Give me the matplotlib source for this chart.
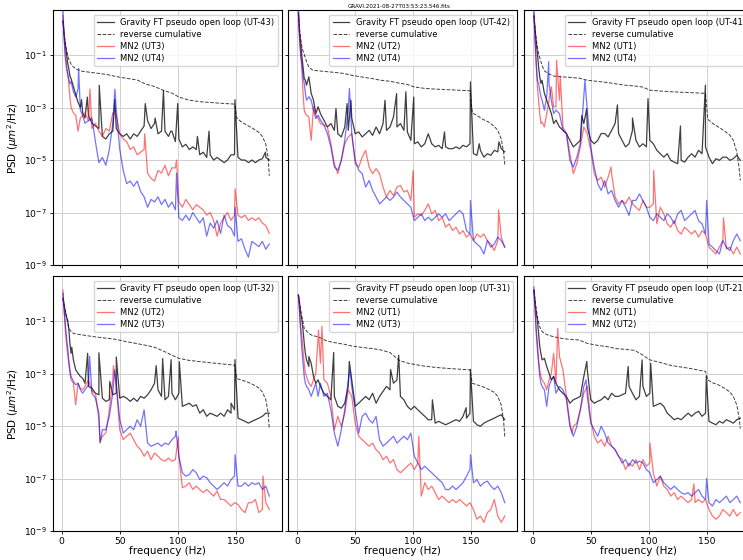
import numpy as np
import matplotlib

matplotlib.use("Agg")
import matplotlib.pyplot as plt
from matplotlib.ticker import NullLocator

FREQ = [1, 2, 3, 4, 5, 6, 7, 8, 10, 12,
        14, 16, 18, 20, 23, 26, 29, 32, 35, 38,
        41, 44, 47, 50, 53, 56, 59, 62, 65, 68,
        71, 74, 77, 80, 83, 86, 89, 92, 95, 98,
        101, 104, 107, 110, 113, 116, 119, 122, 125, 128,
        131, 134, 137, 140, 143, 146, 149, 152, 155, 158,
        161, 164, 167, 170, 173, 176, 179]

# reverse cumulative is smooth, read on a coarser grid
CUM_FREQ = [1, 2, 3, 4, 5, 6, 8, 10, 13, 18, 25, 32, 40, 47, 55, 65, 72,
            80, 88, 95, 101, 110, 120, 135, 149, 151, 155, 160, 165, 170,
            173, 176, 178, 179]

# all PSD values below are log10(um^2/Hz)

# --- UT-43 ---
ut43_ft = [0.3, -0.2, -0.6, -0.9, -1.3, -1.5, -1.8, -1.9, -2.2, -2.5,
           -2.8, -3.0, -3.2, -3.4, -3.3, -3.6, -3.7, -3.8, -4.1, -4.2,
           -4.0, -3.9, -3.8, -4.0, -4.1, -4.0, -4.2, -4.0, -4.1, -3.9,
           -3.7, -3.5, -3.8, -3.6, -4.0, -3.9, -3.9, -4.1, -3.9, -4.3,
           -4.2, -4.5, -4.4, -4.6, -4.5, -4.6, -4.8, -4.7, -4.9, -4.8,
           -5.0, -4.9, -5.0, -5.1, -5.0, -4.8, -4.8, -4.9, -5.0, -5.0,
           -5.1, -5.0, -5.1, -5.0, -4.95, -4.9, -5.0]
ut43_ft_peaks = [(17, -2.7), (22, -2.6), (32.3, -2.15), (45.7, -2.7),
                 (72, -2.85), (80.5, -3.4), (87.7, -2.35), (94, -3.9),
                 (100, -2.85), (117, -4.1), (127, -3.9), (149.4, -2.7),
                 (175.7, -4.7)]
ut43_cum = [0.3, -0.2, -0.55, -0.8, -1.0, -1.15, -1.35, -1.45, -1.55, -1.62,
            -1.66, -1.7, -1.75, -1.82, -1.88, -1.95, -2.1, -2.2, -2.35, -2.45,
            -2.6, -2.72, -2.78, -2.83, -2.87, -3.4, -3.55, -3.68, -3.8, -3.95,
            -4.1, -4.4, -4.9, -5.6]
ut43_ut3 = [0.5, -0.3, -0.9, -1.3, -1.7, -2.1, -2.6, -3.0, -3.2, -3.3,
            -3.9, -3.4, -3.3, -3.2, -3.5, -3.8, -3.6, -3.9, -4.1, -3.8,
            -3.9, -3.2, -3.3, -4.0, -4.2, -4.3, -4.6, -4.5, -4.8, -4.7,
            -4.6, -5.5, -5.7, -5.8, -5.4, -5.5, -5.2, -5.6, -5.3, -5.3,
            -6.6, -6.8, -6.5, -6.7, -6.9, -6.7, -6.8, -6.9, -7.1, -7.0,
            -7.3, -7.9, -7.4, -7.2, -7.0, -7.3, -7.1, -7.1, -7.2, -7.1,
            -7.3, -7.2, -7.3, -7.2, -7.4, -7.5, -7.8]
ut43_ut3_peaks = [(24.3, -2.3), (71.5, -4.0), (99, -5.0), (149.5, -6.1)]
ut43_ut4 = [0.7, -0.4, -1.1, -1.5, -1.7, -1.9, -2.1, -2.0, -2.4, -2.6,
            -2.3, -3.1, -3.3, -3.6, -3.5, -3.4, -4.3, -5.1, -4.9, -5.2,
            -4.6, -3.6, -3.1, -4.6, -5.4, -5.9, -5.8, -6.0, -5.8, -6.2,
            -6.4, -6.8, -6.5, -6.6, -6.4, -6.7, -6.5, -6.8, -6.6, -6.9,
            -7.2, -7.3, -7.1, -7.3, -7.0, -7.2, -7.4, -7.2, -7.9, -7.4,
            -7.6, -7.3, -7.8, -7.1, -7.5, -7.6, -7.9, -8.1, -8.0, -8.4,
            -8.7, -8.1, -8.2, -8.3, -8.1, -8.4, -8.2]
ut43_ut4_peaks = [(14.5, -1.5), (45.8, -2.3), (99, -5.5), (149.5, -6.8)]

# --- UT-42 ---
ut42_ft = [0.59, -0.17, -0.55, -1.06, -1.45, -1.89, -1.96, -2.15, -1.83, -2.46,
           -2.72, -3.23, -2.97, -3.23, -3.48, -3.74, -3.61, -3.87, -4.0, -4.12,
           -3.74, -3.87, -3.4, -4.0, -3.93, -4.12, -4.0, -3.87, -4.06, -3.74,
           -4.0, -3.61, -3.87, -3.74, -3.36, -3.74, -3.61, -3.87, -3.93, -4.25,
           -4.38, -4.31, -4.5, -4.38, -4.0, -4.38, -4.5, -4.44, -4.57, -4.5,
           -4.57, -4.57, -4.5, -4.57, -4.44, -4.5, -4.38, -4.76, -4.82, -4.63,
           -4.89, -4.76, -4.82, -4.63, -4.69, -4.57, -4.69]
ut42_ft_peaks = [(33.4, -3.04), (43, -2.85), (46.3, -2.72), (75.7, -2.72),
                 (85.7, -2.47), (93.7, -2.4), (100.5, -2.6), (127, -3.93),
                 (149.4, -2.02), (157, -4.38), (174, -4.31)]
ut42_cum = [0.59, 0.0, -0.4, -0.7, -0.85, -0.97, -1.25, -1.45, -1.57, -1.6,
            -1.63, -1.66, -1.7, -1.77, -1.83, -1.9, -1.96, -2.0, -2.07, -2.12,
            -2.22, -2.27, -2.3, -2.33, -2.36, -3.2, -3.3, -3.45, -3.55, -3.72,
            -3.87, -4.2, -4.7, -5.2]
ut42_ut2 = [0.72, -0.3, -0.94, -1.57, -2.46, -3.1, -3.23, -3.29, -3.36, -4.25,
            -2.97, -3.29, -3.42, -3.61, -3.67, -3.74, -4.38, -5.14, -5.52, -5.01,
            -4.38, -4.12, -3.99, -5.14, -5.27, -4.89, -4.63, -5.27, -5.52, -5.33,
            -5.52, -6.03, -6.41, -6.16, -6.35, -6.03, -5.97, -6.22, -6.16, -6.54,
            -7.18, -7.05, -7.11, -6.92, -6.67, -7.05, -6.92, -7.31, -7.18, -7.56,
            -7.43, -7.69, -7.56, -7.82, -7.69, -7.94, -7.82, -8.07, -7.82, -7.94,
            -7.82, -8.07, -8.2, -8.45, -8.07, -7.94, -8.32]
ut42_ut2_peaks = [(100, -5.4), (173.7, -6.9)]
ut42_ut4 = [0.78, -0.43, -1.06, -1.32, -1.83, -2.08, -2.46, -2.72, -2.59, -2.72,
            -3.1, -3.42, -3.29, -3.48, -3.67, -3.99, -4.5, -5.27, -5.39, -5.01,
            -4.25, -3.1, -3.99, -5.01, -5.39, -5.52, -6.03, -5.78, -6.16, -6.41,
            -6.67, -6.54, -6.41, -6.54, -6.41, -6.22, -6.41, -6.54, -6.67, -6.8,
            -7.31, -7.18, -7.05, -7.31, -7.18, -7.31, -7.18, -7.05, -7.18, -7.05,
            -7.31, -7.18, -7.05, -6.92, -7.05, -7.69, -7.82, -8.07, -8.2, -8.32,
            -8.58, -8.07, -8.32, -8.2, -7.94, -8.07, -8.32]
ut42_ut4_peaks = [(45, -2.27), (149.4, -6.54)]

# --- UT-41 ---
ut41_ft = [0.46, -0.04, -0.55, -0.94, -1.45, -1.83, -2.08, -1.96, -2.46, -2.72,
           -2.97, -3.23, -3.61, -3.48, -3.74, -3.87, -3.99, -4.25, -4.5, -4.38,
           -4.25, -3.61, -3.74, -4.25, -4.38, -4.25, -3.99, -3.99, -4.12, -3.87,
           -3.61, -3.99, -4.25, -4.5, -4.38, -3.87, -4.25, -4.5, -4.38, -4.5,
           -4.25, -4.38, -4.63, -4.76, -4.89, -4.76, -5.01, -5.08, -5.14, -5.01,
           -5.08, -4.89, -4.76, -4.89, -4.63, -4.76, -4.5, -4.89, -5.14, -4.95,
           -5.01, -4.89, -4.89, -5.01, -4.95, -4.82, -5.01]
ut41_ft_peaks = [(42.3, -3.3), (46.5, -3.05), (73, -2.9), (86, -3.4),
                 (99.4, -2.66), (127.4, -3.7), (148.9, -2.15)]
ut41_cum = [0.53, 0.0, -0.4, -0.7, -0.94, -1.1, -1.4, -1.6, -1.7, -1.8,
            -1.83, -1.85, -1.88, -1.96, -2.0, -2.05, -2.1, -2.15, -2.18, -2.22,
            -2.34, -2.37, -2.4, -2.43, -2.46, -3.45, -3.6, -3.74, -3.88, -4.05,
            -4.25, -4.7, -5.3, -5.78]
ut41_ut1 = [0.59, -0.55, -1.45, -2.21, -2.72, -3.23, -3.61, -3.55, -3.74, -3.23,
            -2.72, -2.21, -2.97, -2.97, -2.72, -3.74, -3.99, -4.76, -5.52, -5.14,
            -4.5, -3.74, -3.99, -4.63, -5.52, -5.78, -5.65, -6.03, -5.65, -5.52,
            -6.41, -6.67, -6.54, -6.67, -6.41, -6.67, -6.8, -6.92, -6.54, -6.8,
            -6.8, -6.67, -7.43, -6.8, -7.05, -7.43, -7.56, -7.31, -7.69, -7.82,
            -7.56, -7.69, -7.82, -7.69, -7.94, -7.69, -7.82, -8.32, -8.45, -8.58,
            -8.32, -8.07, -8.39, -8.32, -8.58, -8.32, -8.58]
ut41_ut1_peaks = [(20.5, -1.2), (23.7, -1.8), (67.5, -5.27), (104.3, -5.4),
                  (164.5, -7.2)]
ut41_ut4 = [0.72, -0.43, -1.32, -1.96, -2.08, -2.34, -2.59, -2.72, -3.1, -2.59,
            -2.08, -2.72, -3.23, -3.1, -3.23, -3.87, -3.99, -5.01, -5.27, -4.89,
            -4.38, -2.59, -3.1, -4.5, -5.27, -5.9, -6.16, -5.78, -6.29, -6.16,
            -6.54, -6.8, -6.54, -6.8, -7.11, -6.54, -6.54, -6.29, -6.54, -6.8,
            -7.18, -7.31, -7.05, -7.18, -7.31, -7.05, -7.18, -7.43, -7.05, -6.92,
            -7.31, -7.18, -7.05, -6.92, -7.31, -7.43, -7.82, -8.2, -8.32, -8.45,
            -8.58, -8.07, -8.32, -8.45, -8.07, -7.82, -8.07]
ut41_ut4_peaks = [(13.7, -1.25), (45, -1.96), (150, -6.54)]

# --- UT-32 ---
ut32_ft = [-0.14, -0.39, -0.65, -0.84, -0.96, -1.28, -1.85, -2.23, -2.48, -2.86,
           -2.99, -3.11, -3.18, -3.37, -3.49, -3.56, -3.75, -3.81, -3.94, -4.06,
           -4.0, -3.81, -3.75, -3.94, -3.87, -3.94, -4.06, -3.94, -4.06, -3.87,
           -3.94, -3.81, -3.62, -3.37, -3.62, -3.87, -4.0, -3.87, -3.75, -4.0,
           -3.75, -4.25, -4.19, -4.13, -4.25, -4.19, -4.51, -4.38, -4.63, -4.51,
           -4.57, -4.63, -4.51, -4.63, -4.38, -4.51, -4.38, -4.7, -4.76, -4.82,
           -4.89, -4.82, -4.76, -4.7, -4.63, -4.51, -4.51]
ut32_ft_peaks = [(8.6, -2.0), (22.3, -2.23), (32, -2.21), (41.4, -3.3),
                 (47, -2.37), (81.4, -2.7), (87, -2.43), (94.3, -2.47),
                 (101.4, -2.55), (146, -4.13), (149.4, -2.47)]
ut32_cum = [-0.14, -0.39, -0.62, -0.84, -1.05, -1.25, -1.4, -1.47, -1.5, -1.53,
            -1.58, -1.62, -1.66, -1.7, -1.78, -1.86, -1.92, -2.0, -2.15, -2.3,
            -2.42, -2.5, -2.55, -2.62, -2.68, -3.19, -3.25, -3.32, -3.42, -3.55,
            -3.7, -4.0, -4.5, -5.1]
ut32_ut2 = [0.18, -0.58, -1.34, -1.85, -2.23, -2.61, -2.99, -3.24, -3.37, -4.19,
            -3.37, -3.56, -3.62, -3.49, -3.24, -3.68, -3.75, -4.76, -5.39, -5.27,
            -4.38, -3.24, -3.49, -5.14, -5.52, -5.39, -5.27, -5.52, -5.77, -5.9,
            -6.15, -5.96, -6.28, -6.03, -6.15, -6.28, -6.34, -6.22, -6.34, -6.28,
            -6.15, -7.35, -7.29, -7.16, -7.42, -7.29, -7.42, -7.54, -7.42, -7.54,
            -7.67, -7.48, -7.8, -7.8, -7.92, -8.05, -7.92, -7.99, -8.18, -8.3,
            -7.92, -7.92, -7.8, -8.3, -8.18, -7.92, -8.18]
ut32_ut2_peaks = [(33, -5.6), (44.5, -2.7), (100.5, -5.4), (173.5, -6.9)]
ut32_ut3 = [0.05, -0.58, -1.09, -1.59, -1.97, -2.48, -2.86, -3.11, -3.3, -3.43,
            -3.37, -3.62, -3.75, -3.62, -3.43, -3.75, -3.94, -4.51, -5.14, -5.14,
            -4.63, -3.75, -3.37, -4.76, -5.27, -5.14, -5.01, -5.14, -4.76, -5.01,
            -4.38, -5.65, -5.77, -5.71, -5.65, -5.77, -5.65, -5.71, -5.52, -5.39,
            -6.15, -6.78, -6.91, -6.85, -6.66, -6.78, -7.04, -6.91, -6.97, -7.16,
            -7.29, -7.42, -7.29, -7.16, -7.29, -7.04, -6.91, -7.29, -7.29, -7.16,
            -7.29, -7.16, -7.23, -7.16, -7.42, -7.29, -7.67]
ut32_ut3_peaks = [(24, -2.34), (33, -5.65), (45.5, -2.86), (98.5, -5.2),
                  (149.5, -6.09)]

# --- UT-31 ---
ut31_ft = [-0.01, -0.33, -0.71, -0.96, -1.34, -1.85, -2.23, -2.48, -2.73, -2.61,
           -3.11, -3.37, -3.24, -3.49, -3.75, -3.87, -4.0, -3.87, -4.25, -4.32,
           -4.13, -3.49, -3.24, -4.25, -4.13, -4.0, -3.87, -4.0, -3.75, -4.13,
           -3.87, -3.68, -3.49, -3.62, -3.37, -3.24, -3.87, -4.0, -4.25, -4.38,
           -4.25, -4.38, -4.51, -4.63, -4.76, -4.76, -4.89, -4.82, -4.89, -4.95,
           -4.89, -4.82, -4.76, -4.82, -4.63, -4.7, -4.51, -4.82, -4.95, -5.01,
           -4.89, -4.82, -4.76, -4.7, -4.63, -4.57, -4.76]
ut31_ft_peaks = [(10, -2.35), (31.4, -2.2), (44.9, -2.54), (80.5, -2.85),
                 (87.5, -2.3), (116.6, -4.0), (145.7, -4.3), (149.4, -2.84)]
ut31_cum = [-0.01, -0.3, -0.6, -0.84, -1.05, -1.28, -1.38, -1.47, -1.55, -1.6,
            -1.75, -1.82, -1.88, -1.95, -2.0, -2.05, -2.1, -2.2, -2.5, -2.6,
            -2.65, -2.72, -2.77, -2.82, -2.86, -3.37, -3.43, -3.5, -3.6, -3.72,
            -3.87, -4.2, -4.8, -5.4]
ut31_ut1 = [-0.01, -0.58, -1.22, -1.59, -2.1, -2.61, -2.99, -3.11, -3.37, -3.49,
            -3.24, -2.99, -1.59, -2.61, -3.24, -3.37, -3.87, -5.14, -4.63, -5.01,
            -4.51, -3.62, -3.87, -4.89, -5.39, -5.52, -5.65, -5.77, -5.65, -5.9,
            -6.03, -6.28, -6.15, -6.41, -6.28, -6.66, -6.78, -6.66, -6.53, -6.41,
            -6.66, -6.41, -7.67, -7.16, -7.42, -7.29, -7.54, -7.8, -7.67, -7.8,
            -7.92, -7.8, -7.92, -7.8, -7.92, -8.05, -7.92, -8.18, -8.55, -8.43,
            -8.67, -8.3, -8.18, -7.8, -8.43, -8.67, -8.43]
ut31_ut1_peaks = [(18.3, -1.35), (21.3, -1.2), (104.8, -5.39)]
ut31_ut3 = [-0.01, -0.71, -1.47, -2.1, -2.61, -3.11, -3.37, -3.49, -3.62, -3.87,
            -3.62, -3.37, -3.87, -3.37, -3.87, -3.75, -4.38, -5.27, -5.77, -5.14,
            -4.38, -3.24, -3.49, -4.38, -5.27, -4.63, -4.51, -4.76, -4.89, -4.63,
            -5.52, -5.77, -5.65, -5.52, -5.39, -5.65, -5.52, -5.39, -5.52, -5.27,
            -6.15, -6.41, -6.66, -6.53, -6.66, -6.78, -6.91, -7.04, -7.16, -7.42,
            -7.42, -7.29, -7.42, -7.29, -7.16, -6.91, -6.66, -7.16, -7.04, -7.29,
            -7.16, -7.1, -7.29, -7.42, -7.29, -7.54, -7.92]
ut31_ut3_peaks = [(45.5, -2.86), (149.5, -6.09)]

# --- UT-21 ---
ut21_ft = [0.18, -0.33, -0.71, -0.96, -1.47, -1.97, -2.23, -2.48, -2.42, -2.73,
           -2.99, -3.24, -3.11, -3.37, -3.62, -3.75, -3.87, -4.13, -4.0, -3.94,
           -3.87, -3.11, -2.86, -4.0, -4.13, -4.06, -4.0, -3.87, -4.0, -3.75,
           -3.87, -3.87, -3.81, -3.75, -3.49, -3.75, -4.0, -3.87, -3.49, -3.87,
           -3.75, -4.25, -4.19, -4.13, -4.25, -4.51, -4.63, -4.76, -4.7, -4.76,
           -4.63, -4.51, -4.63, -4.51, -4.44, -4.63, -4.51, -4.82, -4.89, -4.95,
           -4.82, -4.89, -4.76, -4.82, -4.89, -4.76, -4.7]
ut21_ft_peaks = [(46.6, -2.54), (82.3, -2.73), (94.3, -2.48), (101.7, -2.61),
                 (149.7, -3.11)]
ut21_cum = [0.18, -0.2, -0.55, -0.84, -1.05, -1.22, -1.4, -1.47, -1.53, -1.6,
            -1.66, -1.7, -1.72, -1.85, -1.92, -1.98, -2.05, -2.08, -2.12, -2.3,
            -2.48, -2.58, -2.7, -2.8, -2.92, -3.24, -3.35, -3.43, -3.55, -3.7,
            -3.87, -4.2, -4.7, -5.1]
ut21_ut1 = [0.18, -0.58, -1.34, -1.85, -2.48, -2.86, -3.11, -3.24, -3.37, -3.62,
            -3.24, -2.99, -2.23, -3.37, -2.35, -2.86, -3.87, -4.89, -5.01, -4.89,
            -4.38, -3.75, -3.49, -4.76, -5.39, -5.65, -5.52, -5.77, -5.39, -5.77,
            -5.9, -6.15, -6.28, -6.66, -6.41, -6.53, -6.28, -6.66, -6.28, -6.53,
            -6.41, -6.78, -7.29, -6.91, -7.29, -7.42, -7.67, -7.54, -7.8, -7.67,
            -7.8, -7.92, -7.8, -7.92, -7.8, -7.92, -7.8, -8.18, -8.43, -8.55,
            -8.43, -8.18, -8.3, -8.43, -8.18, -8.43, -8.3]
ut21_ut1_peaks = [(21.5, -1.28), (33.8, -5.27), (101, -5.65), (139, -7.2)]
ut21_ut2 = [0.3, -0.58, -1.47, -2.1, -2.61, -3.11, -3.37, -3.49, -3.62, -4.25,
            -3.49, -3.24, -3.11, -3.75, -3.49, -3.62, -4.0, -5.01, -5.39, -5.01,
            -4.38, -3.49, -3.87, -4.89, -5.14, -5.39, -5.01, -5.27, -5.65, -5.77,
            -5.9, -6.15, -6.41, -6.28, -6.53, -6.28, -6.41, -6.34, -6.41, -6.66,
            -6.78, -7.16, -7.04, -6.91, -7.16, -7.29, -7.42, -7.29, -7.42, -7.54,
            -7.6, -7.54, -7.67, -7.54, -7.42, -7.67, -7.8, -7.92, -8.05, -7.8,
            -7.92, -7.8, -7.67, -7.92, -7.8, -7.67, -7.92]
ut21_ut2_peaks = [(46, -3.24), (150, -7.0)]

PANELS = [
    ("UT-43", ut43_ft, ut43_ft_peaks, ut43_cum,
     ("UT3", ut43_ut3, ut43_ut3_peaks), ("UT4", ut43_ut4, ut43_ut4_peaks)),
    ("UT-42", ut42_ft, ut42_ft_peaks, ut42_cum,
     ("UT2", ut42_ut2, ut42_ut2_peaks), ("UT4", ut42_ut4, ut42_ut4_peaks)),
    ("UT-41", ut41_ft, ut41_ft_peaks, ut41_cum,
     ("UT1", ut41_ut1, ut41_ut1_peaks), ("UT4", ut41_ut4, ut41_ut4_peaks)),
    ("UT-32", ut32_ft, ut32_ft_peaks, ut32_cum,
     ("UT2", ut32_ut2, ut32_ut2_peaks), ("UT3", ut32_ut3, ut32_ut3_peaks)),
    ("UT-31", ut31_ft, ut31_ft_peaks, ut31_cum,
     ("UT1", ut31_ut1, ut31_ut1_peaks), ("UT3", ut31_ut3, ut31_ut3_peaks)),
    ("UT-21", ut21_ft, ut21_ft_peaks, ut21_cum,
     ("UT1", ut21_ut1, ut21_ut1_peaks), ("UT2", ut21_ut2, ut21_ut2_peaks)),
]


def spectrum(base, peaks):
    """merge the grid values with the narrow peaks, return (f, psd)"""
    if len(base) != len(FREQ):
        raise ValueError(f"expected {len(FREQ)} values, got {len(base)}")
    f = np.concatenate([FREQ, [p[0] for p in peaks]])
    v = np.concatenate([base, [p[1] for p in peaks]])
    order = np.argsort(f, kind="stable")
    return f[order], 10.0 ** v[order]


def main() -> None:
    plt.rcParams.update({
        "font.family": "DejaVu Sans",
        "xtick.labelsize": 6.7,
        "ytick.labelsize": 6.7,
        "axes.labelsize": 7.5,
        "axes.linewidth": 0.8,
        "xtick.major.width": 0.6,
        "ytick.major.width": 0.6,
        "xtick.major.size": 2.5,
        "ytick.major.size": 2.5,
    })

    fig = plt.figure(figsize=(7.43, 5.6), dpi=100)

    # the original figure was wider: the last column runs off the right edge
    lefts = [0.0707, 0.3876, 0.7046]
    bottoms = [0.5268, 0.0518]
    width, height = 0.3089, 0.4545

    for k, (ut, ft, ft_peaks, cum, mn_a, mn_b) in enumerate(PANELS):
        row, col = divmod(k, 3)
        ax = fig.add_axes([lefts[col], bottoms[row], width, height])

        f, psd = spectrum(ft, ft_peaks)
        ax.semilogy(f, psd, color="k", lw=0.9, alpha=0.75,
                    label=f"Gravity FT pseudo open loop ({ut})")
        ax.semilogy(CUM_FREQ, 10.0 ** np.asarray(cum), color="k", ls="--",
                    lw=0.7, alpha=0.75, label="reverse cumulative")
        for (name, vals, peaks), color in zip((mn_a, mn_b), ("r", "b")):
            f, psd = spectrum(vals, peaks)
            ax.semilogy(f, psd, color=color, lw=0.9, alpha=0.55,
                        label=f"MN2 ({name})")

        ax.set_xlim(-8, 190)
        ax.set_ylim(1e-9, 5)
        ax.set_xticks([0, 50, 100, 150])
        ax.set_yticks([1e-9, 1e-7, 1e-5, 1e-3, 1e-1])
        ax.yaxis.set_minor_locator(NullLocator())
        ax.grid(True, color="#d0d0d0", lw=0.7)
        ax.tick_params(pad=1.5)

        if row == 0:
            ax.tick_params(labelbottom=False)
        else:
            ax.set_xlabel("frequency (Hz)", labelpad=0.5)
        if col == 0:
            ax.set_ylabel(r"PSD ($\mu m^2$/Hz)", labelpad=2)
        else:
            ax.tick_params(labelleft=False)

        ax.legend(loc="upper right", fontsize=6, handlelength=2.0,
                  borderaxespad=0.5, labelspacing=0.35)

    fig.text(0.537, 0.992, "GRAVI.2021-08-27T03:53:23.546.fits",
             ha="center", va="top", fontsize=4.1)

    fig.savefig("out.png", dpi=100)
    plt.close(fig)


if __name__ == "__main__":
    main()
